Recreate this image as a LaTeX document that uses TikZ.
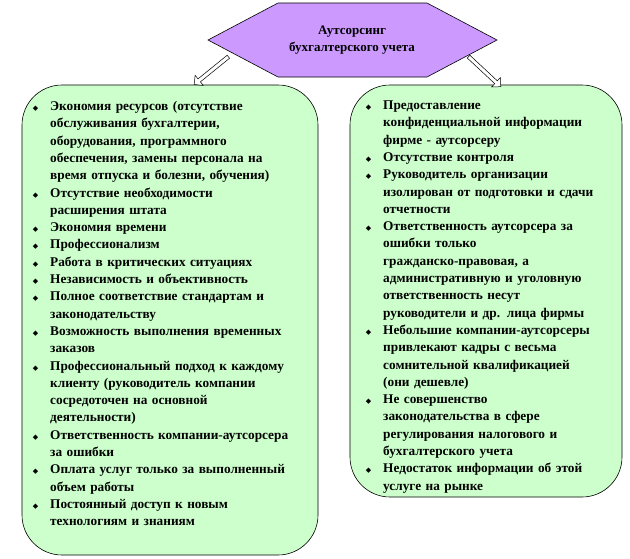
\documentclass[tikz,border=0pt]{standalone}
\usepackage{fontspec}
\setmainfont{Liberation Serif}
\newfontfamily\symf{DejaVu Sans}
\usepackage{enumitem}
\usetikzlibrary{shapes.arrows}
\definecolor{lgreen}{HTML}{CCFFCC}
\definecolor{lviolet}{HTML}{CC99FF}
\tikzset{
 box/.style={draw,fill=lgreen,rounded corners=40pt,line width=0.6pt},
 txt/.style={anchor=north west,font=\bfseries\fontsize{13.3}{17.3}\selectfont,align=left,inner sep=0},
 barrow/.style={single arrow,draw,fill=white,minimum height=44pt,minimum width=13pt,single arrow head extend=3pt,inner sep=1pt,line width=0.5pt}
}
\newcommand{\dia}{{\symf\fontsize{7}{7}\selectfont ◆}}
\setlist[itemize]{label=\dia,leftmargin=22pt,labelsep=12pt,itemsep=0pt,topsep=0pt,parsep=0pt,partopsep=0pt,before=\raggedright}
\begin{document}
\begin{tikzpicture}[x=1pt,y=-1pt]
\useasboundingbox (0,0) rectangle (630,558);
\draw[fill=lviolet,line width=0.6pt] (208,40)--(278,3)--(427,3)--(497,40)--(427,77)--(278,77)--cycle;
\node[font=\bfseries\fontsize{13}{17}\selectfont,align=center] (title) at (352,40) {Аутсорсинг\\бухгалтерского учета};
\draw[box] (22,85) rectangle (318,555);
\draw[box] (350,85) rectangle (622,497);
\node[barrow,rotate=-141] (la) at (212,70) {};
\node[barrow,rotate=-43] (ra) at (484,71) {};
\node[txt,text width=262pt] (left) at (28,93) {\begin{itemize}
\item Экономия ресурсов (отсутствие обслуживания бухгалтерии, оборудования, программного обеспечения, замены персонала на время отпуска и болезни, обучения)
\item Отсутствие необходимости расширения штата
\item Экономия времени
\item Профессионализм
\item Работа в критических ситуациях
\item Независимость и объективность
\item Полное соответствие стандартам и законодательству
\item Возможность выполнения временных заказов
\item Профессиональный подход к каждому клиенту (руководитель компании сосредоточен на основной деятельности)
\item Ответственность компании-аутсорсера за ошибки
\item Оплата услуг только за выполненный объем работы
\item Постоянный доступ к новым технологиям и знаниям
\end{itemize}};
\node[txt,text width=236pt] (right) at (361,92) {\begin{itemize}
\item Предоставление конфиденциальной информации фирме - аутсорсеру
\item Отсутствие контроля
\item Руководитель организации изолирован от подготовки и сдачи отчетности
\item Ответственность аутсорсера за ошибки только гражданско-правовая, а административную и уголовную ответственность несут руководители и др. лица фирмы
\item Небольшие компании-аутсорсеры привлекают кадры с весьма сомнительной квалификацией (они дешевле)
\item Не совершенство законодательства в сфере регулирования налогового и бухгалтерского учета
\item Недостаток информации об этой услуге на рынке
\end{itemize}};
\end{tikzpicture}
\end{document}
